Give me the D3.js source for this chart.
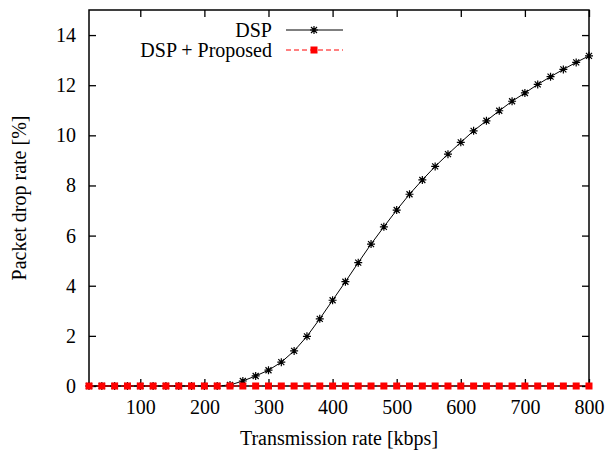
<!DOCTYPE html>
<html>
<head>
<meta charset="utf-8">
<script src="https://cdn.jsdelivr.net/npm/d3@7"></script>
<style>
	body { margin: 0; background: #fff; }
	text { font-family: "Liberation Serif", "Times New Roman", serif; fill: #000; }
</style>
</head>
<body>
<div id="container"></div>
<script>
// data
var rates = [20, 40, 60, 80, 100, 120, 140, 160, 180, 200,
	220, 240, 260, 280, 300, 320, 340, 360, 380, 400,
	420, 440, 460, 480, 500, 520, 540, 560, 580, 600,
	620, 640, 660, 680, 700, 720, 740, 760, 780, 800];
var dsp = [0, 0, 0, 0, 0, 0, 0, 0, 0, 0,
	0, 0.04, 0.2, 0.4, 0.63, 0.95, 1.4, 1.98, 2.68, 3.42,
	4.16, 4.92, 5.66, 6.35, 7.02, 7.65, 8.22, 8.76, 9.25, 9.72,
	10.18, 10.58, 10.98, 11.36, 11.69, 12.03, 12.34, 12.63, 12.91, 13.17];
var proposed = [0, 0, 0, 0, 0, 0, 0, 0, 0, 0,
	0, 0, 0, 0, 0, 0, 0, 0, 0, 0,
	0, 0, 0, 0, 0, 0, 0, 0, 0, 0,
	0, 0, 0, 0, 0, 0, 0, 0, 0, 0];
var xTicks = [100, 200, 300, 400, 500, 600, 700, 800];
var yTicks = [0, 2, 4, 6, 8, 10, 12, 14];
var seriesNames = ["DSP", "DSP + Proposed"];

var window_w = 608, window_h = 451;
var margin = {top: 10, right: 19, bottom: 65, left: 89},
	width = window_w - (margin.left + margin.right),
	height = window_h - (margin.top + margin.bottom);
var fontSize = 20;

var svg = d3.select("#container")
	.append("svg")
	.attr("width", window_w)
	.attr("height", window_h);

var plot = svg.append("g")
	.attr("transform", "translate(" + margin.left + "," + margin.top + ")");

var x = d3.scaleLinear().domain([20, 800]).range([0, width]);
var y = d3.scaleLinear().domain([0, 15]).range([height, 0]);

var tickLen = 7;

// ticks, gnuplot style: inward and mirrored
var xb = plot.append("g")
	.attr("transform", "translate(0," + height + ")")
	.call(d3.axisBottom(x).tickValues(xTicks).tickSize(-tickLen).tickPadding(14));
var xt = plot.append("g")
	.call(d3.axisTop(x).tickValues(xTicks).tickSize(-tickLen).tickFormat(""));
var yl = plot.append("g")
	.call(d3.axisLeft(y).tickValues(yTicks).tickSize(-tickLen).tickPadding(13));
var yr = plot.append("g")
	.attr("transform", "translate(" + width + ",0)")
	.call(d3.axisRight(y).tickValues(yTicks).tickSize(-tickLen).tickFormat(""));

[xb, xt, yl, yr].forEach(function(a) {
	a.attr("font-family", null);
	a.select(".domain").remove();
	a.selectAll(".tick line").attr("stroke", "#000").attr("stroke-width", 1.3);
	a.selectAll(".tick text").attr("font-size", fontSize);
});

// frame
plot.append("rect")
	.attr("width", width)
	.attr("height", height)
	.attr("fill", "none")
	.attr("stroke", "#000")
	.attr("stroke-width", 1.5);

var line = d3.line()
	.x(function(d, i) { return x(rates[i]); })
	.y(function(d) { return y(d); });

var star = function(s) {
	return "M" + (-s) + ",0H" + s + "M0," + (-s) + "V" + s +
		"M" + (-s * 0.75) + "," + (-s * 0.75) + "L" + (s * 0.75) + "," + (s * 0.75) +
		"M" + (-s * 0.75) + "," + (s * 0.75) + "L" + (s * 0.75) + "," + (-s * 0.75);
};

// DSP
plot.append("path")
	.datum(dsp)
	.attr("d", line)
	.attr("fill", "none")
	.attr("stroke", "#000")
	.attr("stroke-width", 1);

plot.selectAll(".star")
	.data(dsp)
	.enter().append("path")
	.attr("class", "star")
	.attr("transform", function(d, i) { return "translate(" + x(rates[i]) + "," + y(d) + ")"; })
	.attr("d", star(4))
	.attr("stroke", "#000")
	.attr("stroke-width", 1.2);

// DSP + Proposed
plot.append("path")
	.datum(proposed)
	.attr("d", line)
	.attr("fill", "none")
	.attr("stroke", "#f00")
	.attr("stroke-width", 1)
	.attr("stroke-dasharray", "5,3");

plot.selectAll(".sq")
	.data(proposed)
	.enter().append("rect")
	.attr("class", "sq")
	.attr("x", function(d, i) { return x(rates[i]) - 3.5; })
	.attr("y", function(d) { return y(d) - 3.5; })
	.attr("width", 7)
	.attr("height", 7)
	.attr("fill", "#f00");

// legend
var legend = svg.append("g");
var legY = [30, 50];
legend.selectAll("text")
	.data(seriesNames)
	.enter().append("text")
	.attr("x", 272)
	.attr("y", function(d, i) { return legY[i]; })
	.attr("dy", "0.33em")
	.attr("text-anchor", "end")
	.attr("font-size", fontSize)
	.text(function(d) { return d; });

legend.append("line")
	.attr("x1", 286).attr("x2", 343)
	.attr("y1", legY[0]).attr("y2", legY[0])
	.attr("stroke", "#000").attr("stroke-width", 1);
legend.append("path")
	.attr("transform", "translate(314," + legY[0] + ")")
	.attr("d", star(4))
	.attr("stroke", "#000").attr("stroke-width", 1.2);
legend.append("line")
	.attr("x1", 286).attr("x2", 343)
	.attr("y1", legY[1]).attr("y2", legY[1])
	.attr("stroke", "#f00").attr("stroke-width", 1)
	.attr("stroke-dasharray", "5,3");
legend.append("rect")
	.attr("x", 314 - 3.5).attr("y", legY[1] - 3.5)
	.attr("width", 7).attr("height", 7)
	.attr("fill", "#f00");

// axis titles
svg.append("text")
	.attr("x", margin.left + width / 2)
	.attr("y", 438)
	.attr("dy", "0.33em")
	.attr("text-anchor", "middle")
	.attr("font-size", fontSize)
	.text("Transmission rate [kbps]");

svg.append("text")
	.attr("transform", "translate(19," + (margin.top + height / 2) + ") rotate(-90)")
	.attr("dy", "0.33em")
	.attr("text-anchor", "middle")
	.attr("font-size", fontSize)
	.text("Packet drop rate [%]");
</script>
</body>
</html>
